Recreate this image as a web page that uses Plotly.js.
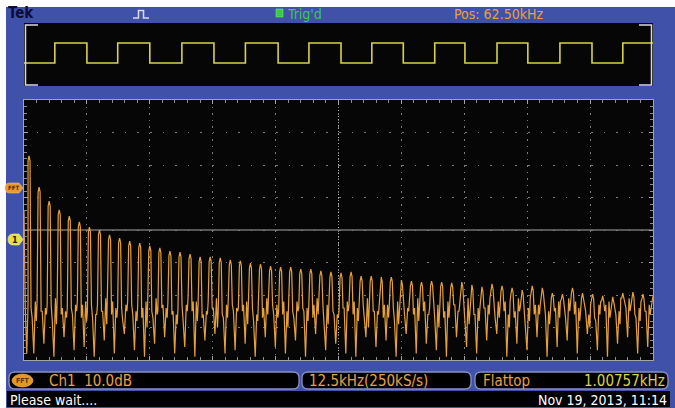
<!DOCTYPE html>
<html>
<head>
<meta charset="utf-8">
<script src="https://cdn.plot.ly/plotly-3.0.1.min.js"></script>
<style>
html,body{margin:0;padding:0;background:#3f51a8;}
#chart{width:675px;height:408px;}
</style>
</head>
<body>
<div id="chart"></div>
<script>
// ---------------- DATA ----------------
// FFT spectrum (frequency in kHz, level in dB; 10 dB/div)
const dcKHz = [0, 0.25, 0.55, 0.8];
const dcDb = [-34, -64, -78, -63];

const harmonicKHz = [1,3,5,7,9,11,13,15,17,19,21,23,25,27,29,31,33,35,37,39,41,43,45,47,49,51,53,55,57,59,61,63,65,67,69,71,73,75,77,79,81,83,85,87,89,91,93,95,97,99,101,103,105,107,109,111,113,115,117,119,121,123,125];

const peakDb = [-17.2,-26.8,-31.1,-33.8,-35.7,-37.5,-39.1,-40.0,-41.5,-42.5,
  -43.4,-44.0,-44.9,-45.5,-46.5,-46.8,-47.4,-48.3,-48.3,-48.6,
  -49.2,-49.5,-50.2,-50.5,-51.1,-51.4,-51.4,-52.0,-52.0,-52.6,
  -52.9,-53.2,-52.9,-54.2,-54.2,-54.5,-54.5,-55.4,-55.7,-56.0,
  -55.7,-56.0,-56.3,-56.0,-56.9,-57.5,-56.6,-57.2,-57.8,-58.5,
  -57.2,-57.8,-59.4,-59.7,-57.8,-59.4,-59.7,-60.3,-60.6,-59.4,
  -59.1,-59.7,-60.3];

// flat-top window main lobe (shoulders either side of each harmonic)
const lobeOffsetKHz = 0.2;
const lobeDropDb = 1.5;

// noise / leakage between neighbouring harmonics (one value per gap)
const gapOffsetKHz = [0.4, 0.62, 0.95, 1.25, 1.45, 1.6];
const floorA = [-64,-65,-63,-66,-64,-67,-63,-65,-66,-64,
  -63,-67,-65,-64,-66,-63,-65,-67,-64,-66,
  -63,-65,-64,-67,-63,-66,-65,-64,-67,-63,
  -65,-64,-66,-63,-65,-67,-64,-63,-66,-65,
  -64,-67,-63,-65,-66,-64,-63,-65,-67,-64,
  -66,-63,-65,-64,-66,-63,-67,-65,-64,-63,
  -66,-65];
const floorB = [-67,-65,-68,-64,-66,-63,-67,-65,-62,-68,
  -66,-64,-67,-63,-65,-68,-62,-66,-64,-67,
  -65,-63,-68,-64,-66,-62,-67,-65,-63,-68,
  -66,-64,-62,-67,-65,-63,-68,-66,-64,-62,
  -67,-65,-63,-68,-66,-64,-67,-62,-65,-68,
  -63,-66,-64,-67,-62,-65,-68,-63,-66,-64,
  -67,-65];
const dipDb = [-78,-75,-79,-73,-77,-76,-79,-74,-78,-72,
  -77,-79,-75,-73,-78,-76,-79,-74,-72,-78,
  -77,-75,-79,-73,-76,-78,-74,-79,-72,-77,
  -75,-78,-79,-73,-76,-74,-79,-72,-78,-75,
  -77,-79,-73,-76,-78,-74,-72,-79,-75,-77,
  -73,-79,-76,-74,-78,-72,-77,-79,-75,-73,
  -78,-76];
const floorC = [-62,-64,-61,-65,-63,-62,-66,-61,-64,-63,
  -65,-62,-61,-64,-66,-63,-62,-65,-61,-63,
  -64,-62,-66,-61,-63,-65,-62,-64,-61,-63,
  -66,-62,-64,-61,-65,-63,-62,-64,-61,-66,
  -63,-62,-65,-61,-64,-63,-62,-66,-61,-64,
  -63,-65,-62,-61,-64,-66,-63,-62,-65,-61,
  -64,-63];
const floorD = [-68,-66,-69,-67,-65,-68,-66,-69,-67,-65,
  -68,-70,-66,-67,-69,-65,-68,-66,-70,-67,
  -65,-69,-68,-66,-67,-70,-65,-68,-66,-69,
  -67,-65,-68,-70,-66,-67,-69,-65,-68,-66,
  -70,-67,-65,-69,-68,-66,-67,-70,-65,-68,
  -66,-69,-67,-65,-68,-70,-66,-67,-69,-65,
  -68,-66];
const floorE = [-62,-63,-61,-64,-62,-65,-63,-61,-64,-62,
  -63,-61,-65,-62,-64,-61,-63,-62,-65,-61,
  -64,-62,-63,-61,-65,-62,-64,-63,-61,-62,
  -65,-63,-61,-64,-62,-63,-65,-61,-62,-64,
  -63,-61,-62,-65,-64,-61,-63,-62,-64,-61,
  -63,-65,-62,-61,-64,-63,-62,-65,-61,-63,
  -62,-64];

// Time-domain record (top panel), positions in divisions
const riseDiv = [0.49,1.49,2.51,3.52,4.53,5.53,6.53,7.52,8.52,9.52];
const fallDiv = [1.00,2.00,3.02,4.04,5.04,6.03,7.01,8.01,9.03];
const lowLevel = 0, highLevel = 1;

// Readout texts
const txtTek = "Tek";
const txtTrig = "Trig'd";
const txtPos = "Pos: 62.50kHz";
const txtCh = "Ch1  10.0dB";
const txtSpan = "12.5kHz(250kS/s)";
const txtWin = "Flattop";
const txtFreq = "1.00757kHz";
const txtWait = "Please wait....";
const txtDate = "Nov 19, 2013, 11:14";

// ---------------- BUILD ----------------
const gapLevels = [floorA, floorB, dipDb, floorC, floorD, floorE];
const fx = [], fy = [];
dcKHz.forEach((f, i) => { fx.push(f); fy.push(dcDb[i]); });
for (let k = 0; k < harmonicKHz.length; k++) {
  const f = harmonicKHz[k];
  fx.push(f - lobeOffsetKHz); fy.push(peakDb[k] - lobeDropDb);
  fx.push(f); fy.push(peakDb[k]);
  fx.push(f + lobeOffsetKHz); fy.push(peakDb[k] - lobeDropDb);
  if (k < harmonicKHz.length - 1) {
    for (let j = 0; j < gapOffsetKHz.length; j++) {
      fx.push(f + gapOffsetKHz[j]);
      fy.push(gapLevels[j][k]);
    }
  }
}

const tx = [0], ty = [lowLevel];
for (let i = 0; i < riseDiv.length; i++) {
  tx.push(riseDiv[i]); ty.push(highLevel);
  if (i < fallDiv.length) { tx.push(fallDiv[i]); ty.push(lowLevel); }
}
tx.push(10); ty.push(ty[ty.length - 1]);

const W = 675, H = 408;
const X = p => p / W;
const Y = p => 1 - p / H;
const P = (x, y) => X(x) + ',' + Y(y);

function roundRectPath(x0, y0, x1, y1, r) {
  return 'M' + P(x0 + r, y0) + ' L' + P(x1 - r, y0) + ' Q' + P(x1, y0) + ' ' + P(x1, y0 + r) +
    ' L' + P(x1, y1 - r) + ' Q' + P(x1, y1) + ' ' + P(x1 - r, y1) +
    ' L' + P(x0 + r, y1) + ' Q' + P(x0, y1) + ' ' + P(x0, y1 - r) +
    ' L' + P(x0, y0 + r) + ' Q' + P(x0, y0) + ' ' + P(x0 + r, y0) + ' Z';
}
function tagPath(x0, y0, x1, y1, tip) {
  const ym = (y0 + y1) / 2, r = (y1 - y0) / 2;
  return 'M' + P(x0 + r, y0) + ' L' + P(x1, y0) + ' L' + P(tip, ym) + ' L' + P(x1, y1) +
    ' L' + P(x0 + r, y1) + ' Q' + P(x0, y1) + ' ' + P(x0, ym) + ' Q' + P(x0, y0) + ' ' + P(x0 + r, y0) + ' Z';
}

const FONT = "'Liberation Sans Narrow', 'DejaVu Sans Condensed', 'Liberation Sans', Arial, sans-serif";
const BLUE = '#3f51a8';
const ORANGE = '#e8a040';
const BORDER = '#8890c4';

const shapes = [
  {type:'rect', xref:'paper', yref:'paper', x0:0, x1:1, y0:Y(7), y1:1, fillcolor:'#ffffff', line:{width:0}, layer:'below'},
  {type:'rect', xref:'paper', yref:'paper', x0:0, x1:X(6), y0:0, y1:1, fillcolor:'#ffffff', line:{width:0}, layer:'below'},
  {type:'path', xref:'paper', yref:'paper', path:'M'+P(38,25)+' L'+P(25.5,25)+' L'+P(25.5,85)+' L'+P(38,85), line:{color:'#d8d8e4', width:1.5}},
  {type:'path', xref:'paper', yref:'paper', path:'M'+P(639,25)+' L'+P(651.5,25)+' L'+P(651.5,85)+' L'+P(639,85), line:{color:'#d8d8e4', width:1.5}},
  {type:'line', xref:'x', yref:'y', x0:0, x1:125, y0:-40, y1:-40, line:{color:'#a8a8ac', width:1}, layer:'below'},
  {type:'line', xref:'x', yref:'y', x0:62.5, x1:62.5, y0:-80, y1:0, line:{color:'#b4b4b8', width:1, dash:'1px,2px'}, layer:'below'},
  {type:'path', xref:'paper', yref:'paper', path:tagPath(5, 183, 19, 193, 23), fillcolor:'#e89a30', line:{color:'#f0c080', width:0.6}},
  {type:'path', xref:'paper', yref:'paper', path:tagPath(8, 234, 19, 245, 23), fillcolor:'#e8e040', line:{color:'#f8f0a0', width:0.6}},
  {type:'path', xref:'paper', yref:'paper', path:'M'+P(133,18)+' L'+P(138.5,18)+' L'+P(138.5,10.5)+' L'+P(143.5,10.5)+' L'+P(143.5,18)+' L'+P(149,18), line:{color:'#d8d8f0', width:1.6}},
  {type:'rect', xref:'paper', yref:'paper', x0:X(276), x1:X(283), y0:Y(17), y1:Y(9), fillcolor:'#3cc84a', line:{color:'#80f080', width:0.5}},
  {type:'path', xref:'paper', yref:'paper', path:roundRectPath(9, 372, 299, 389, 6), fillcolor:'#000000', line:{color:BORDER, width:1.3}},
  {type:'path', xref:'paper', yref:'paper', path:roundRectPath(302, 372, 471, 389, 6), fillcolor:'#000000', line:{color:BORDER, width:1.3}},
  {type:'path', xref:'paper', yref:'paper', path:roundRectPath(475, 372, 668, 389, 6), fillcolor:'#000000', line:{color:BORDER, width:1.3}},
  {type:'rect', xref:'paper', yref:'paper', x0:X(7), x1:X(670), y0:Y(407), y1:Y(391), fillcolor:'#000000', line:{width:0}},
  {type:'circle', xref:'paper', yref:'paper', x0:X(12), x1:X(33), y0:Y(387), y1:Y(374), fillcolor:'#e8961e', line:{color:'#f4c070', width:0.6}}
];

const ann = (text, x, y, opts) => Object.assign({
  text: text, xref:'paper', yref:'paper', x: X(x), y: Y(y), showarrow:false,
  xanchor:'left', yanchor:'middle', font:{family:FONT, size:15, color:ORANGE}
}, opts || {});

const annotations = [
  ann('<b>' + txtTek + '</b>', 6, 13.5, {font:{family:FONT, size:15, color:'#0c0c38'}}),
  ann(txtTrig, 285, 14, {font:{family:FONT, size:14, color:'#3cc84a'}}),
  ann(txtPos, 452, 14, {font:{family:FONT, size:14, color:ORANGE}}),
  ann(txtCh, 47, 380.5),
  ann(txtSpan, 307, 380.5),
  ann(txtWin, 481, 380.5),
  ann(txtFreq, 667, 380.5, {xanchor:'right', font:{family:FONT, size:15, color:'#d8d440'}}),
  ann(txtWait, 8, 399.5, {font:{family:FONT, size:14, color:'#ffffff'}}),
  ann(txtDate, 669, 399.5, {xanchor:'right', font:{family:FONT, size:14, color:'#ffffff'}}),
  ann('<b>FFT</b>', 22.5, 380.5, {xanchor:'center', font:{family:FONT, size:7, color:'#5a3000'}}),
  ann('<b>FFT</b>', 13, 188, {xanchor:'center', font:{family:FONT, size:6, color:'#4a2800'}}),
  ann('<b>1</b>', 15, 239.5, {xanchor:'center', font:{family:FONT, size:9, color:'#202000'}})
];

const traces = [
  {x: fx, y: fy, type:'scatter', mode:'lines', xaxis:'x', yaxis:'y',
   line:{color:'#e6a03a', width:1.2}, hoverinfo:'skip'},
  {x: tx, y: ty, type:'scatter', mode:'lines', xaxis:'x2', yaxis:'y2',
   line:{color:'#d6d24a', width:1.6, shape:'hv'}, hoverinfo:'skip'}
];

const layout = {
  width: W, height: H, autosize:false,
  margin:{l:0, r:0, t:0, b:0, pad:0},
  paper_bgcolor: BLUE, plot_bgcolor:'#060606',
  showlegend:false,
  xaxis:{domain:[X(24), X(653)], range:[0,125], dtick:12.5, tick0:0,
    showticklabels:false, zeroline:false,
    showgrid:true, gridcolor:'#7c7c80', gridwidth:1, griddash:'1.5px,5px',
    showline:true, linecolor:'#a4a4ac', linewidth:1, mirror:'ticks',
    ticks:'inside', ticklen:4, tickcolor:'#a4a4ac',
    minor:{dtick:2.5, ticks:'inside', ticklen:3, tickcolor:'#8c8c90', showgrid:false},
    fixedrange:true},
  yaxis:{domain:[Y(360), Y(100)], range:[-80,0], dtick:10, tick0:0,
    showticklabels:false, zeroline:false,
    showgrid:true, gridcolor:'#7c7c80', gridwidth:1, griddash:'1.5px,11.1px',
    showline:true, linecolor:'#a4a4ac', linewidth:1, mirror:'ticks',
    ticks:'inside', ticklen:4, tickcolor:'#a4a4ac',
    minor:{dtick:2, ticks:'inside', ticklen:3, tickcolor:'#8c8c90', showgrid:false},
    fixedrange:true},
  xaxis2:{domain:[X(24), X(653)], range:[0,10], anchor:'y2',
    showticklabels:false, showgrid:false, zeroline:false, showline:false, ticks:'', fixedrange:true},
  yaxis2:{domain:[Y(86), Y(23)], range:[-1.15, 2.0], anchor:'x2',
    showticklabels:false, showgrid:false, zeroline:false, showline:false, ticks:'', fixedrange:true},
  shapes: shapes,
  annotations: annotations
};

Plotly.newPlot('chart', traces, layout, {displayModeBar:false, staticPlot:true});
</script>
</body>
</html>
